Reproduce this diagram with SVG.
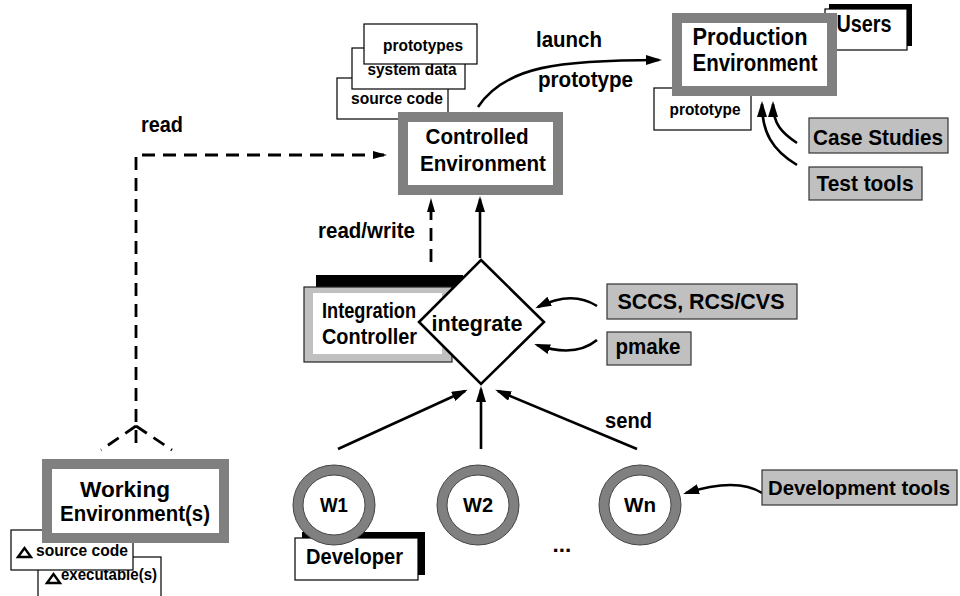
<svg xmlns="http://www.w3.org/2000/svg" width="960" height="596" viewBox="0 0 960 596">
  <style>
    text { font-family: "Liberation Sans", Arial, Helvetica, sans-serif; font-weight: bold; fill: #000; }
    .lg { font-size: 22.5px; }
    .sm { font-size: 16.5px; }
    .env { fill: #fff; stroke: #808080; stroke-width: 10; }
    .doc { fill: #fff; stroke: #000; stroke-width: 1.2; }
    .tool { fill: #c0c0c0; stroke: #333; stroke-width: 1.2; }
    .shadow { fill: #000; }
    .ring-o { fill: #808080; stroke: #444; stroke-width: 1; }
    .ring-i { fill: #fff; stroke: #444; stroke-width: 1; }
    .line { fill: none; stroke: #000; stroke-width: 2.6; }
    .dash { fill: none; stroke: #000; stroke-width: 2.8; stroke-dasharray: 13 8; }
  </style>
  <defs>
    <marker id="ah" markerUnits="userSpaceOnUse" markerWidth="16" markerHeight="10" refX="13" refY="5" orient="auto">
      <path d="M0,0 L16,5 L0,10 z" fill="#000" stroke="none"/>
    </marker>
    <marker id="ahs" markerUnits="userSpaceOnUse" markerWidth="14" markerHeight="8" refX="11" refY="4" orient="auto">
      <path d="M0,0 L14,4 L0,8 z" fill="#000" stroke="none"/>
    </marker>
  </defs>

  <!-- connectors -->
  <g id="connectors">
    <!-- read: working env -> controlled env -->
    <path class="dash" d="M136,443 L136,155 L384,155" marker-end="url(#ahs)"/>
    <path class="dash" d="M136,426 L101,450"/>
    <path class="dash" d="M136,426 L172,450"/>
    <!-- read/write: integration controller -> controlled env -->
    <path class="dash" d="M431,262 L431,201" marker-end="url(#ahs)"/>
    <!-- integrate -> controlled env -->
    <path class="line" d="M480,258 L480,199" marker-end="url(#ah)"/>
    <!-- launch prototype -->
    <path class="line" d="M478,107 C505,66 560,60 659,60" marker-end="url(#ah)"/>
    <!-- case studies / test tools -> production -->
    <path class="line" d="M797,143 C782,133 773,124 773,104" marker-end="url(#ah)"/>
    <path class="line" d="M797,165 C772,150 762,132 762,104" marker-end="url(#ah)"/>
    <!-- SCCS / pmake -> integrate -->
    <path class="line" d="M597,306 Q572,290 538,307" marker-end="url(#ah)"/>
    <path class="line" d="M597,340 Q575,358 537,345" marker-end="url(#ah)"/>
    <!-- send: workspaces -> integrate -->
    <path class="line" d="M338,449 L465,391" marker-end="url(#ah)"/>
    <path class="line" d="M481,449 L481,389" marker-end="url(#ah)"/>
    <path class="line" d="M637,449 L498,391" marker-end="url(#ah)"/>
    <!-- development tools -> Wn -->
    <path class="line" d="M762,493 Q737,477 686,493" marker-end="url(#ah)"/>
  </g>

  <!-- connector labels -->
  <text class="lg" x="141" y="132" textLength="42" lengthAdjust="spacingAndGlyphs">read</text>
  <text class="lg" x="318" y="238" textLength="97" lengthAdjust="spacingAndGlyphs">read/write</text>
  <text class="lg" x="536" y="47" textLength="66" lengthAdjust="spacingAndGlyphs">launch</text>
  <text class="lg" x="538" y="87" textLength="95" lengthAdjust="spacingAndGlyphs">prototype</text>
  <text class="lg" x="605" y="428" textLength="47" lengthAdjust="spacingAndGlyphs">send</text>

  <!-- controlled environment with its stored items -->
  <g id="controlled-store">
    <rect class="doc" x="337" y="78" width="111" height="41"/>
    <text class="sm" x="397" y="104" text-anchor="middle" textLength="92" lengthAdjust="spacingAndGlyphs">source code</text>
    <rect class="doc" x="352" y="48" width="113" height="41"/>
    <text class="sm" x="412" y="75" text-anchor="middle" textLength="89" lengthAdjust="spacingAndGlyphs">system data</text>
    <rect class="doc" x="364" y="24" width="113" height="40"/>
    <text class="sm" x="423" y="51" text-anchor="middle" textLength="80" lengthAdjust="spacingAndGlyphs">prototypes</text>
  </g>
  <g id="controlled-env">
    <rect class="env" x="403" y="117" width="155" height="73"/>
    <text class="lg" x="477" y="144" text-anchor="middle" textLength="103" lengthAdjust="spacingAndGlyphs">Controlled</text>
    <text class="lg" x="483" y="171" text-anchor="middle" textLength="126" lengthAdjust="spacingAndGlyphs">Environment</text>
  </g>

  <!-- production environment -->
  <g id="users">
    <rect class="shadow" x="829" y="4" width="83" height="42"/>
    <rect class="doc" x="825" y="9" width="82" height="41"/>
    <text font-size="23" x="864" y="32" text-anchor="middle" textLength="55" lengthAdjust="spacingAndGlyphs">Users</text>
  </g>
  <g id="prod-prototype">
    <rect class="doc" x="654" y="88" width="97" height="42"/>
    <text class="sm" x="705" y="115" text-anchor="middle" textLength="71" lengthAdjust="spacingAndGlyphs">prototype</text>
  </g>
  <g id="production-env">
    <rect class="env" x="677" y="18" width="155" height="73"/>
    <text font-size="23" x="750" y="45" text-anchor="middle" textLength="115" lengthAdjust="spacingAndGlyphs">Production</text>
    <text font-size="23" x="755" y="71" text-anchor="middle" textLength="125" lengthAdjust="spacingAndGlyphs">Environment</text>
  </g>
  <g id="case-studies">
    <rect class="tool" x="809" y="118" width="139" height="35"/>
    <text class="lg" x="878" y="145" text-anchor="middle" textLength="130" lengthAdjust="spacingAndGlyphs">Case Studies</text>
  </g>
  <g id="test-tools">
    <rect class="tool" x="809" y="167" width="113" height="33"/>
    <text class="lg" x="865" y="191" text-anchor="middle" textLength="97" lengthAdjust="spacingAndGlyphs">Test tools</text>
  </g>

  <!-- integration -->
  <g id="integration-controller">
    <rect class="shadow" x="316" y="275" width="147" height="75"/>
    <rect x="304" y="287" width="148" height="75" fill="#c0c0c0" stroke="#222" stroke-width="1.2"/>
    <rect x="313" y="293" width="129" height="61" fill="#fff"/>
    <text class="lg" x="322" y="318" textLength="94" lengthAdjust="spacingAndGlyphs">Integration</text>
    <text class="lg" x="322" y="344" textLength="95" lengthAdjust="spacingAndGlyphs">Controller</text>
  </g>
  <g id="integrate">
    <path d="M481,260 L544,322 L481,384 L419,322 z" fill="#fff" stroke="#000" stroke-width="2.6" stroke-linejoin="miter"/>
    <text class="lg" x="477" y="331" text-anchor="middle" textLength="91" lengthAdjust="spacingAndGlyphs">integrate</text>
  </g>
  <g id="sccs">
    <rect class="tool" x="607" y="284" width="190" height="35"/>
    <text class="lg" x="701" y="309" text-anchor="middle" textLength="167" lengthAdjust="spacingAndGlyphs">SCCS, RCS/CVS</text>
  </g>
  <g id="pmake">
    <rect class="tool" x="607" y="332" width="84" height="33"/>
    <text class="lg" x="648" y="354" text-anchor="middle" textLength="65" lengthAdjust="spacingAndGlyphs">pmake</text>
  </g>

  <!-- working environment -->
  <g id="working-store">
    <rect class="doc" x="38" y="557" width="123" height="45"/>
    <path d="M47,583 L53.5,574 L60,583 z" fill="none" stroke="#000" stroke-width="2.4"/>
    <text class="sm" x="61" y="580" textLength="96" lengthAdjust="spacingAndGlyphs">executable(s)</text>
    <rect class="doc" x="11" y="530" width="122" height="40"/>
    <path d="M18,557 L24.5,548 L31,557 z" fill="none" stroke="#000" stroke-width="2.4"/>
    <text class="sm" x="36" y="556" textLength="92" lengthAdjust="spacingAndGlyphs">source code</text>
  </g>
  <g id="working-env">
    <rect class="env" x="47" y="464" width="177" height="74"/>
    <text class="lg" x="125" y="497" text-anchor="middle" textLength="90" lengthAdjust="spacingAndGlyphs">Working</text>
    <text class="lg" x="135" y="521" text-anchor="middle" textLength="150" lengthAdjust="spacingAndGlyphs">Environment(s)</text>
  </g>

  <!-- workspaces -->
  <g id="developer">
    <rect class="shadow" x="302" y="532" width="123" height="43"/>
    <rect class="doc" x="295" y="538" width="123" height="42"/>
    <text class="lg" x="306" y="564" textLength="97" lengthAdjust="spacingAndGlyphs">Developer</text>
  </g>
  <g id="w1">
    <ellipse class="ring-o" cx="334" cy="505" rx="41" ry="40"/>
    <ellipse class="ring-i" cx="334" cy="505" rx="31" ry="30"/>
    <text font-size="21" x="334" y="512" text-anchor="middle" textLength="28" lengthAdjust="spacingAndGlyphs">W1</text>
  </g>
  <g id="w2">
    <ellipse class="ring-o" cx="478" cy="505" rx="41" ry="40"/>
    <ellipse class="ring-i" cx="478" cy="505" rx="31" ry="30"/>
    <text font-size="21" x="478" y="512" text-anchor="middle" textLength="30" lengthAdjust="spacingAndGlyphs">W2</text>
  </g>
  <text class="lg" x="562" y="552" text-anchor="middle">...</text>
  <g id="wn">
    <ellipse class="ring-o" cx="640" cy="505" rx="41" ry="40"/>
    <ellipse class="ring-i" cx="640" cy="505" rx="31" ry="30"/>
    <text font-size="21" x="640" y="512" text-anchor="middle" textLength="32" lengthAdjust="spacingAndGlyphs">Wn</text>
  </g>
  <g id="dev-tools">
    <rect class="tool" x="762" y="470" width="195" height="35"/>
    <text font-size="20.5" x="859" y="495" text-anchor="middle" textLength="182" lengthAdjust="spacingAndGlyphs">Development tools</text>
  </g>
</svg>
